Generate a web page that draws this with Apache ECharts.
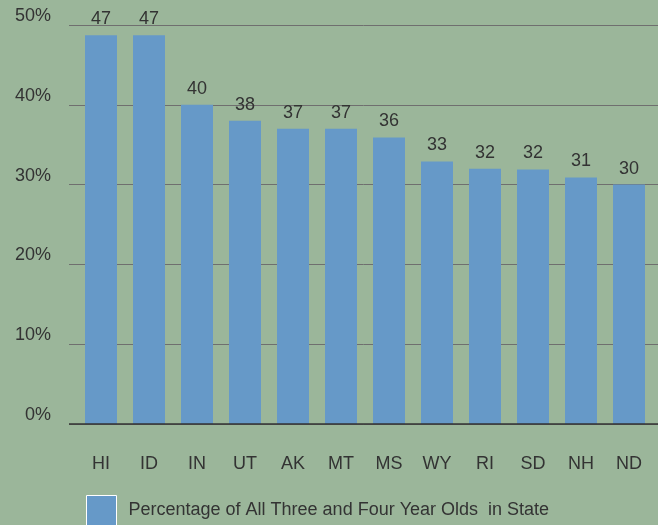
<!DOCTYPE html>
<html>
<head>
<meta charset="utf-8">
<script src="https://cdn.jsdelivr.net/npm/echarts@6/dist/echarts.min.js"></script>
<style>
  html, body { margin: 0; padding: 0; background: #9bb69a; }
  #chart { width: 658px; height: 525px; }
</style>
</head>
<body>
<div id="chart"></div>
<script>
// states, bar heights as drawn, and the labels printed above them
const states = ["HI", "ID", "IN", "UT", "AK", "MT", "MS", "WY", "RI", "SD", "NH", "ND"];
const barHeights = [48.7, 48.7, 40, 38, 37, 37, 35.9, 32.9, 32, 31.9, 30.9, 30];
const barLabels = [47, 47, 40, 38, 37, 37, 36, 33, 32, 32, 31, 30];
const yTicks = [0, 10, 20, 30, 40, 50];
const seriesName = "Percentage of All Three and Four Year Olds  in State";

const chart = echarts.init(document.getElementById('chart'));

const font = "'Liberation Sans', Arial, sans-serif";
const textColor = '#333';
const fs = 18;

const option = {
    backgroundColor: '#9bb69a',
    animation: false,
    textStyle: { fontFamily: font },
    grid: [
        // grid 0: y axis labels + gridlines over the full width
        { left: 69, right: 0, top: 25, bottom: 101 },
        // grid 1: the bars
        { left: 77, right: 5, top: 25, bottom: 101 }
    ],
    legend: {
        data: [seriesName],
        left: 81,
        bottom: -6,
        itemWidth: 30,
        itemHeight: 30,
        icon: 'rect',
        itemStyle: { borderColor: '#fff', borderWidth: 1 },
        textStyle: { fontSize: fs, color: textColor, fontFamily: font, padding: [0, 0, 0, 7] }
    },
    xAxis: [
        {
            gridIndex: 0, type: 'category', data: states, show: false
        },
        {
            gridIndex: 1,
            type: 'category',
            data: states,
            axisLine: { show: false },
            axisTick: { show: false },
            axisLabel: { fontSize: fs, color: textColor, margin: 31, fontFamily: font }
        }
    ],
    yAxis: [
        {
            gridIndex: 0,
            type: 'value',
            min: yTicks[0],
            max: yTicks[yTicks.length - 1],
            interval: 10,
            axisLine: { show: false },
            axisTick: { show: false },
            axisLabel: {
                formatter: '{value}%',
                fontSize: fs,
                color: textColor,
                margin: 18,
                verticalAlign: 'bottom',
                fontFamily: font
            },
            splitLine: { lineStyle: { color: '#6f6f6f', width: 1 } }
        },
        {
            gridIndex: 1,
            type: 'value',
            min: 0,
            max: 50,
            interval: 10,
            show: false
        }
    ],
    series: [
        {
            // axis base line across the full width
            type: 'line',
            xAxisIndex: 0,
            yAxisIndex: 0,
            data: [],
            markLine: {
                silent: true,
                symbol: 'none',
                label: { show: false },
                lineStyle: { color: '#333', width: 1.5, type: 'solid' },
                data: [{ yAxis: 0 }]
            }
        },
        {
            name: seriesName,
            type: 'bar',
            xAxisIndex: 1,
            yAxisIndex: 1,
            barWidth: 32,
            data: barHeights,
            itemStyle: { color: '#6699c8' },
            label: {
                show: true,
                position: 'top',
                distance: 7,
                fontSize: fs,
                color: textColor,
                fontFamily: font,
                formatter: p => barLabels[p.dataIndex]
            }
        }
    ]
};

chart.setOption(option);
</script>
</body>
</html>
